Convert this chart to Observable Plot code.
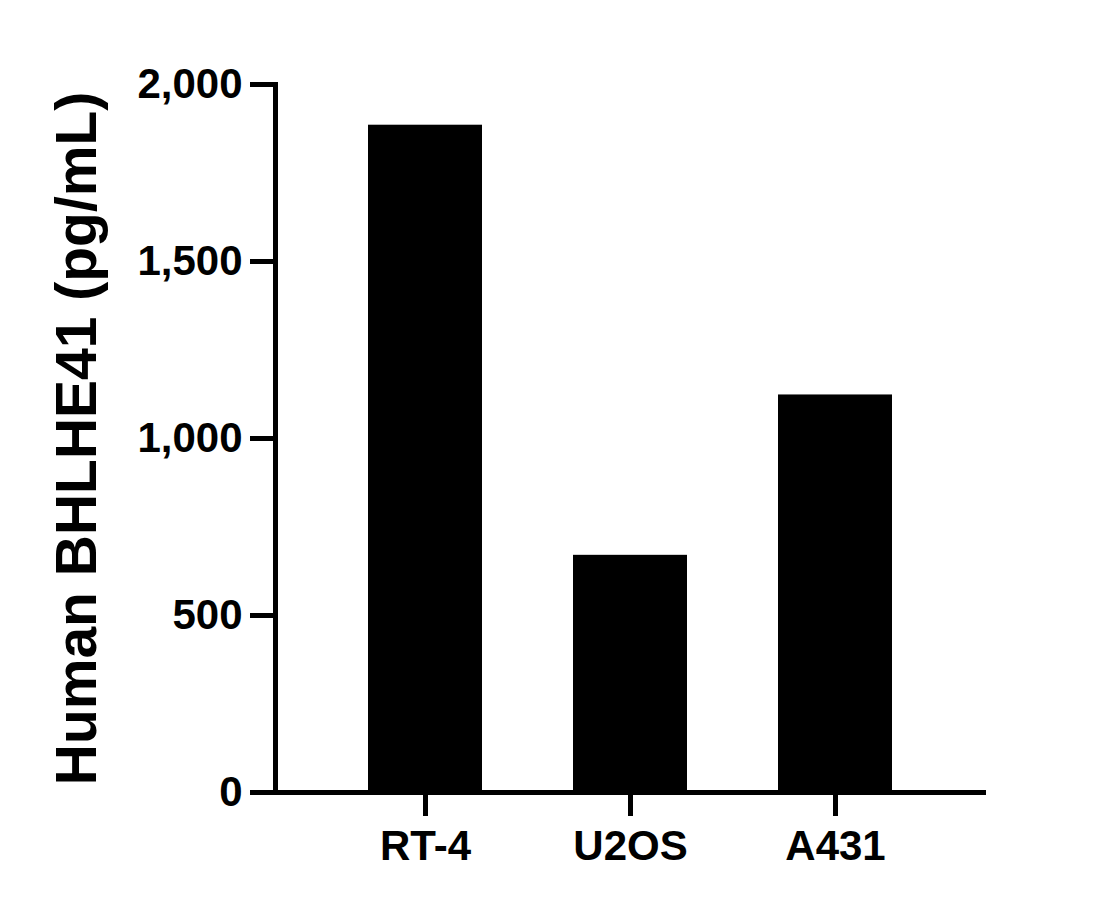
<!DOCTYPE html>
<html>
<head>
<meta charset="utf-8">
<script src="https://cdn.jsdelivr.net/npm/d3@7"></script>
<script src="https://cdn.jsdelivr.net/npm/@observablehq/plot@0.6"></script>
<style>
  html, body { margin: 0; padding: 0; background: #fff; }
</style>
</head>
<body>
<div id="chart"></div>
<script>
const categories = ["RT-4", "U2OS", "A431"];
const values = [1885, 670, 1123];
const yTicks = [0, 500, 1000, 1500, 2000];
const yTitle = "Human BHLHE41 (pg/mL)";

const data = categories.map((c, i) => ({cat: c, val: values[i]}));

const chart = Plot.plot({
  width: 1117,
  height: 909,
  marginLeft: 275,
  marginRight: 131,
  marginTop: 84,
  marginBottom: 117,
  style: {fontFamily: "'Liberation Sans', Arial, sans-serif", fontWeight: "bold", color: "black", background: "white"},
  x: {domain: categories, paddingInner: 0.4435, paddingOuter: 0.4496, align: 0.5},
  y: {domain: [0, 2000]},
  marks: [
    Plot.barY(data, {x: "cat", y: "val", fill: "black"}),
    Plot.frame({anchor: "left", stroke: "black", strokeWidth: 5, strokeLinecap: "square"}),
    Plot.ruleY([0], {stroke: "black", strokeWidth: 5}),
    Plot.axisY({ticks: yTicks, tickFormat: d3.format(","), tickSize: 25, tickPadding: 8, strokeWidth: 5, fontSize: 42, label: null}),
    Plot.axisX({tickSize: 24, tickPadding: 14, strokeWidth: 5, fontSize: 42, label: null}),
    Plot.text([yTitle], {frameAnchor: "left", textAnchor: "middle", rotate: -90, dx: -198, fontSize: 57, fontWeight: "bold", fill: "black"})
  ]
});
d3.select(chart).selectAll('g[aria-label$="tick"], g[aria-label="frame"], g[aria-label="rule"]').attr("stroke-width", 5);
document.getElementById("chart").appendChild(chart);
</script>
</body>
</html>
